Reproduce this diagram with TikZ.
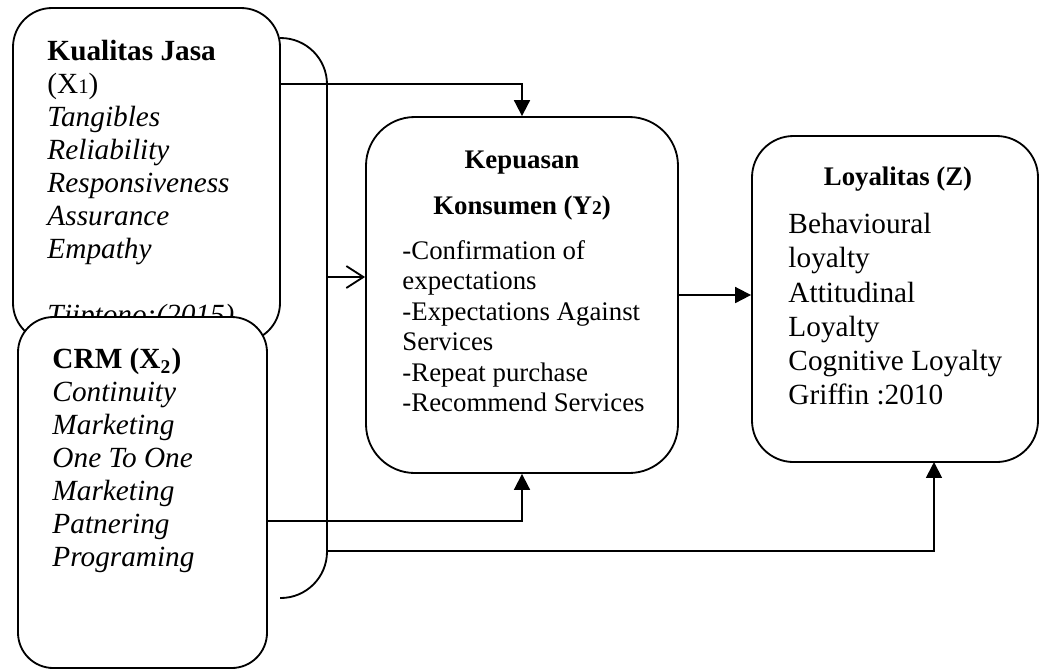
\documentclass[tikz,border=0pt]{standalone}
\usepackage{fontspec}
\setmainfont{Liberation Serif}
\usetikzlibrary{arrows.meta, positioning, fit}

\tikzset{
  kotak/.style={draw, rounded corners=#1, line width=0.75pt, inner sep=0pt},
  kotak/.default=16pt,
  teks/.style={anchor=north west, inner sep=0pt, align=left,
               font=\fontsize{12}{13.5}\selectfont},
  garis/.style={line width=0.75pt},
  panah/.style={garis, -{Triangle[width=6.5pt,length=6.5pt]}},
  panahbuka/.style={garis, -{Straight Barb[width=9pt,length=7pt]}}
}

\begin{document}
\begin{tikzpicture}[x=0.41pt, y=-0.41pt]
  \useasboundingbox (0,0) rectangle (1040,670);

  % Kualitas Jasa (X1)
  \node[kotak=16pt, fit={(13,8) (280,342)}] (jasa) {};
  \node[teks] (teksjasa) at (47,40)
      {\textbf{Kualitas Jasa}\\
       (X{\fontsize{8.5}{8.5}\selectfont 1})\\
       \textit{Tangibles}\\
       \textit{Reliability}\\
       \textit{Responsiveness}\\
       \textit{Assurance}\\
       \textit{Empathy}\\[13.5pt]
       \textit{Tjiptono:(2015)}};

  % CRM (X2), menutupi bagian bawah X1
  \node[kotak=14.5pt, fill=white, fit={(18,317) (267,668)}] (crm) {};
  \node[teks] (tekscrm) at (52,348)
      {\textbf{CRM (X\textsubscript{2})}\\
       \textit{Continuity}\\
       \textit{Marketing}\\
       \textit{One To One}\\
       \textit{Marketing}\\
       \textit{Patnering}\\
       \textit{Programing}};

  % Kepuasan Konsumen (Y2)
  \node[kotak=20pt, fit={(366,117) (678,473)}] (kepuasan) {};
  \node[anchor=north, inner sep=0pt, align=center,
        font=\fontsize{11}{19}\selectfont\bfseries] (judulkepuasan) at (522,150)
      {Kepuasan\\
       Konsumen (Y{\fontsize{8}{8}\selectfont 2})};
  \node[teks, font=\fontsize{11}{12.5}\selectfont] (tekskepuasan) at (402,240)
      {-Confirmation of\\
       expectations\\
       -Expectations Against\\
       Services\\
       -Repeat purchase\\
       -Recommend Services};

  % Loyalitas (Z)
  \node[kotak=17pt, fit={(752,136) (1038,462)}] (loyalitas) {};
  \node[anchor=north, inner sep=0pt,
        font=\fontsize{11}{13}\selectfont\bfseries] (judulloyalitas) at (898,166)
      {Loyalitas (Z)};
  \node[teks, font=\fontsize{12}{14}\selectfont] (teksloyalitas) at (788,213)
      {Behavioural\\
       loyalty\\
       Attitudinal\\
       Loyalty\\
       Cognitive Loyalty\\
       Griffin :2010};

  % Kurung kanan yang menggabungkan X1 dan X2
  \draw[garis, rounded corners=19pt] (280,38) -| (327,598) -- (280,598);
  \coordinate (kurungtengah) at (327,277);
  \coordinate (kurungbawah) at (327,551);
  \coordinate (jasakanan) at (280,84);
  \coordinate (crmkanan) at (267,521);
  \coordinate (masukz) at (934,462);

  % Panah-panah
  \draw[panah] (jasakanan) -| (kepuasan.north);
  \draw[panahbuka] (kurungtengah) -- (kurungtengah -| kepuasan.west);
  \draw[panah] (kepuasan.east) -- (kepuasan.east -| loyalitas.west);
  \draw[panah] (crmkanan) -| (kepuasan.south);
  \draw[panah] (kurungbawah) -| (masukz);
\end{tikzpicture}
\end{document}
